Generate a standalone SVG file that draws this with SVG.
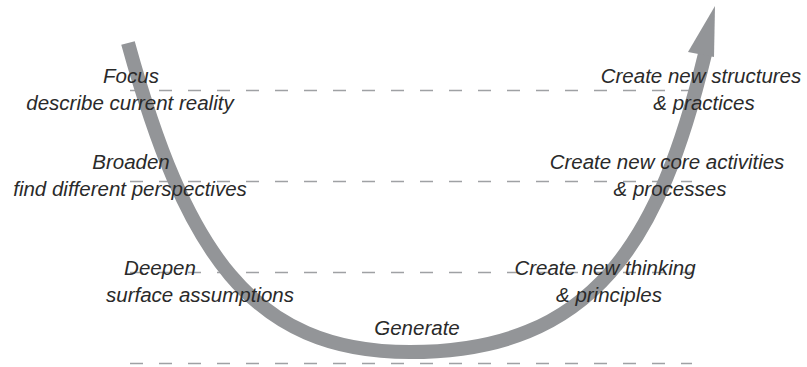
<svg xmlns="http://www.w3.org/2000/svg" width="807" height="367" viewBox="0 0 807 367">
<style>
.dash{stroke:#9fa1a4;stroke-width:1.3;stroke-dasharray:13 16;fill:none}
.shaft{stroke:#939598;stroke-width:14;fill:none;stroke-linecap:butt}
.head{fill:#939598}
text{font-family:"Liberation Sans",Arial,sans-serif;font-style:italic;font-size:20.5px;fill:#2a2a2a;text-anchor:middle}
</style>
<rect width="807" height="367" fill="#ffffff"/>
<g id="levels">
<line class="dash" x1="130" y1="90.5" x2="692" y2="90.5"/>
<line class="dash" x1="130" y1="181.5" x2="692" y2="181.5"/>
<line class="dash" x1="130" y1="272.5" x2="692" y2="272.5"/>
<line class="dash" x1="130" y1="363.5" x2="692" y2="363.5"/>
</g>
<g id="connectors">
<path class="shaft" d="M128,43 C185,250 250,352 410,352 C595,352 660,240 705,54"/>
<polygon class="head" points="688,52 715,6 714,57"/>
</g>
<g id="focus"><text x="131" y="83">Focus</text><text x="130" y="110">describe current reality</text></g>
<g id="broaden"><text x="131" y="169">Broaden</text><text x="130" y="196">find different perspectives</text></g>
<g id="deepen"><text x="160" y="275">Deepen</text><text x="200" y="302">surface assumptions</text></g>
<g id="generate"><text x="417" y="335">Generate</text></g>
<g id="structures"><text x="701" y="83">Create new structures</text><text x="704" y="110">&amp; practices</text></g>
<g id="core"><text x="667" y="169">Create new core activities</text><text x="670" y="196">&amp; processes</text></g>
<g id="thinking"><text x="605" y="275">Create new thinking</text><text x="609" y="302">&amp; principles</text></g>
</svg>
